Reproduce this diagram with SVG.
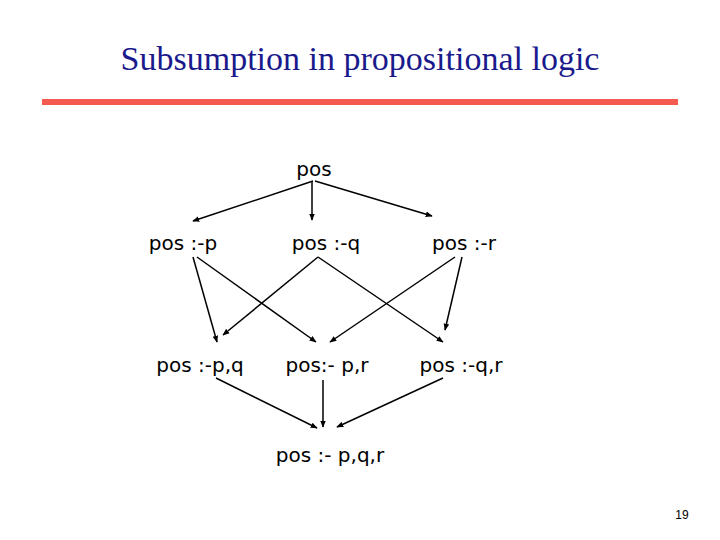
<svg xmlns="http://www.w3.org/2000/svg" width="720" height="540" viewBox="0 0 720 540">
<style>
.n{font-family:"DejaVu Sans",sans-serif;font-size:20px;fill:#000;text-anchor:middle}
.c line{stroke:#000;stroke-width:1.5;marker-end:url(#a)}
</style>
<defs><marker id="a" viewBox="0 0 10 10" refX="9" refY="5" markerWidth="7" markerHeight="7" orient="auto" markerUnits="userSpaceOnUse"><path d="M0,1 L10,5 L0,9 z" fill="#000"/></marker></defs>
<rect width="720" height="540" fill="#fff"/>
<text x="360" y="70" font-family="Liberation Serif,serif" font-size="34" text-anchor="middle" fill="#1a1a8c">Subsumption in propositional logic</text>
<rect x="42" y="99" width="636" height="6" fill="#f45a50"/>
<g id="n0"><text class="n" x="314" y="176">pos</text></g>
<g id="n1"><text class="n" x="183" y="250">pos :-p</text></g>
<g id="n2"><text class="n" x="326" y="250">pos :-q</text></g>
<g id="n3"><text class="n" x="464" y="250">pos :-r</text></g>
<g id="n4"><text class="n" x="200" y="372">pos :-p,q</text></g>
<g id="n5"><text class="n" x="327" y="372">pos:- p,r</text></g>
<g id="n6"><text class="n" x="461" y="372">pos :-q,r</text></g>
<g id="n7"><text class="n" x="330" y="462">pos :- p,q,r</text></g>
<g class="c">
<line x1="313" y1="181" x2="193" y2="221"/>
<line x1="312" y1="182" x2="312" y2="220"/>
<line x1="315" y1="181" x2="432" y2="216"/>
<line x1="193" y1="257" x2="217" y2="342"/>
<line x1="197" y1="257" x2="316" y2="342"/>
<line x1="318" y1="257" x2="223" y2="335"/>
<line x1="318" y1="257" x2="443" y2="342"/>
<line x1="455" y1="257" x2="330" y2="342"/>
<line x1="462" y1="257" x2="445" y2="330"/>
<line x1="216" y1="378" x2="317" y2="428"/>
<line x1="323" y1="380" x2="323" y2="427"/>
<line x1="443" y1="378" x2="337" y2="427"/>
</g>
<text x="682" y="519" font-family="Liberation Sans,sans-serif" font-size="12" text-anchor="middle">19</text>
</svg>
